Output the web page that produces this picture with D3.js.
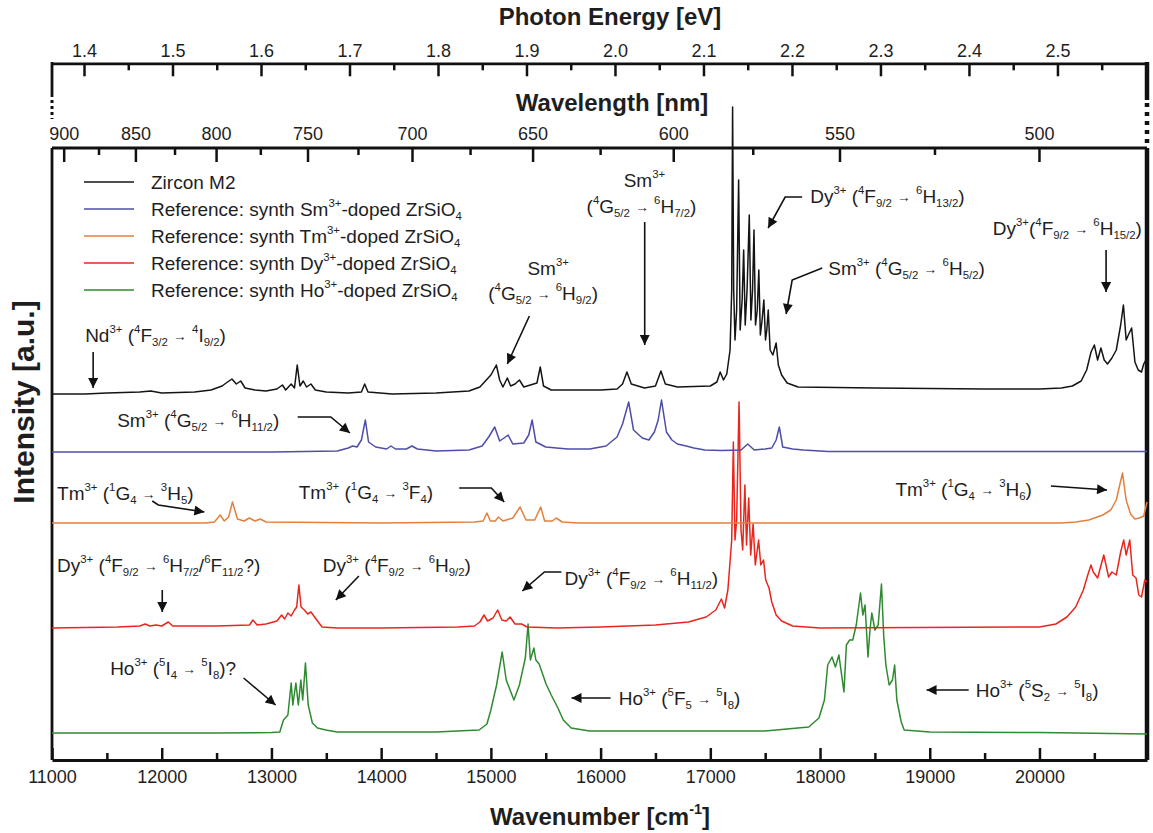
<!DOCTYPE html>
<html>
<head>
<meta charset="utf-8">
<script src="https://cdn.jsdelivr.net/npm/d3@7"></script>
<style>
  body { margin: 0; background: #fff; }
  svg { display: block; }
  text { white-space: pre; }
</style>
</head>
<body>
<div id="chart"></div>
<script>
// spectra: [wavenumber (cm-1), stacked intensity (a.u.)]
var zirconM2 = [
    [11000, 36.6], [11300, 36.6], [11500, 36.7], [11800, 36.8], [11900, 36.9], [12000, 36.7],
    [12300, 36.8], [12450, 37.0], [12550, 37.4], [12600, 37.8], [12640, 38.1], [12680, 37.6],
    [12720, 37.9], [12760, 37.2], [12850, 37.0], [12950, 36.9], [13050, 37.1], [13100, 37.5],
    [13130, 37.0], [13180, 37.6], [13210, 37.2], [13235, 39.5], [13260, 37.4], [13290, 37.9],
    [13320, 37.3], [13360, 37.6], [13400, 37.0], [13500, 36.8], [13700, 36.7], [13820, 36.8],
    [13850, 37.6], [13880, 36.8], [14100, 36.6], [14500, 36.7], [14800, 36.9], [14900, 37.3],
    [14950, 37.9], [15000, 38.5], [15050, 39.5], [15080, 38.0], [15110, 37.3], [15150, 38.2],
    [15180, 37.4], [15220, 37.6], [15260, 38.0], [15300, 37.3], [15360, 37.5], [15420, 37.7],
    [15450, 39.3], [15480, 37.4], [15550, 37.0], [15700, 37.0], [16000, 37.0], [16150, 37.1],
    [16200, 37.6], [16240, 38.8], [16280, 37.6], [16400, 37.2], [16500, 37.4], [16550, 38.9],
    [16590, 37.6], [16700, 37.3], [17000, 37.4], [17060, 37.8], [17090, 38.8], [17120, 38.0],
    [17150, 38.6], [17180, 41.0], [17195, 47.0], [17203, 65.3], [17213, 47.0], [17225, 42.0],
    [17240, 45.0], [17258, 58.0], [17272, 43.0], [17290, 46.0], [17304, 51.0], [17318, 43.5],
    [17335, 47.0], [17355, 54.5], [17370, 44.0], [17385, 47.0], [17398, 53.0], [17412, 43.5],
    [17428, 45.0], [17442, 49.0], [17456, 42.5], [17472, 44.0], [17488, 46.0], [17503, 42.0],
    [17515, 43.0], [17528, 45.0], [17545, 41.0], [17570, 40.5], [17600, 41.7], [17620, 39.5],
    [17650, 38.5], [17700, 37.7], [17800, 37.3], [18500, 37.2], [19500, 37.1], [20000, 37.1],
    [20200, 37.2], [20300, 37.4], [20380, 37.9], [20430, 39.0], [20470, 40.8], [20500, 41.5],
    [20530, 40.0], [20560, 41.2], [20590, 40.0], [20620, 39.6], [20660, 40.2], [20700, 41.0],
    [20740, 43.5], [20765, 45.5], [20790, 42.0], [20810, 42.5], [20840, 43.2], [20870, 39.8],
    [20900, 39.0], [20930, 38.8], [20950, 39.6], [20980, 40.2]
];
var smDoped = [
    [11000, 30.8], [13000, 30.8], [13600, 30.9], [13700, 31.2], [13740, 31.4], [13780, 31.3],
    [13820, 32.0], [13856, 34.0], [13885, 31.8], [13950, 31.3], [14050, 31.1], [14090, 31.4],
    [14130, 31.1], [14230, 31.1], [14280, 31.4], [14330, 31.1], [14500, 30.9], [14800, 31.0],
    [14920, 31.4], [14980, 32.3], [15035, 33.3], [15080, 31.9], [15120, 32.2], [15157, 32.5],
    [15200, 31.6], [15300, 31.7], [15345, 32.5], [15376, 34.0], [15410, 31.8], [15500, 31.3],
    [15700, 31.1], [15900, 31.1], [16050, 31.4], [16150, 32.3], [16200, 33.6], [16256, 35.8],
    [16300, 33.0], [16380, 32.2], [16440, 32.0], [16490, 32.8], [16525, 34.0], [16555, 36.0],
    [16600, 32.8], [16650, 32.0], [16700, 31.6], [16780, 31.4], [16850, 31.2], [16950, 31.0],
    [17100, 30.95], [17280, 31.0], [17341, 31.6], [17400, 31.0], [17500, 31.1], [17560, 31.2],
    [17600, 32.0], [17629, 33.3], [17660, 31.3], [17750, 31.1], [17850, 31.0], [18072, 30.85],
    [20980, 30.85]
];
var tmDoped = [
    [11000, 23.7], [12400, 23.7], [12480, 23.8], [12533, 24.5], [12570, 23.9], [12610, 24.3],
    [12645, 25.8], [12690, 24.1], [12750, 23.9], [12798, 24.2], [12850, 23.9], [12898, 24.1],
    [12950, 23.8], [14000, 23.7], [14850, 23.8], [14930, 23.9], [14964, 24.7], [14995, 23.9],
    [15040, 23.9], [15069, 24.3], [15110, 23.9], [15200, 24.2], [15266, 25.3], [15320, 24.0],
    [15400, 24.0], [15454, 25.3], [15490, 23.9], [15560, 23.9], [15595, 24.2], [15650, 23.8],
    [15800, 23.7], [20200, 23.7], [20330, 23.8], [20450, 24.0], [20577, 24.5], [20650, 25.0],
    [20700, 26.0], [20757, 28.7], [20790, 26.0], [20830, 24.6], [20869, 24.1], [20910, 24.2],
    [20950, 24.4], [20980, 25.8]
];
var dyDoped = [
    [11000, 13.2], [11600, 13.3], [11800, 13.4], [11850, 13.6], [11890, 13.4], [11950, 13.5],
    [12000, 13.4], [12060, 13.8], [12100, 13.4], [12500, 13.4], [12800, 13.5], [12831, 14.0],
    [12870, 13.5], [12950, 13.6], [13050, 13.9], [13093, 14.5], [13120, 14.1], [13150, 14.7],
    [13180, 14.4], [13210, 15.0], [13230, 15.3], [13250, 17.5], [13270, 15.3], [13300, 15.0],
    [13330, 14.6], [13360, 14.8], [13400, 14.2], [13461, 13.3], [13600, 13.2], [14000, 13.2],
    [14700, 13.3], [14850, 13.4], [14900, 13.8], [14937, 14.5], [14970, 13.9], [15020, 14.2],
    [15062, 15.0], [15100, 14.0], [15140, 13.9], [15175, 14.3], [15220, 13.6], [15280, 13.6],
    [15330, 13.3], [15600, 13.2], [16000, 13.3], [16500, 13.5], [16800, 13.8], [16962, 14.3],
    [17050, 15.0], [17101, 16.1], [17130, 15.2], [17160, 17.0], [17195, 22.0], [17210, 31.8],
    [17225, 22.0], [17240, 24.0], [17262, 35.8], [17280, 23.0], [17295, 21.0], [17315, 27.5],
    [17330, 21.5], [17350, 26.2], [17368, 20.5], [17390, 23.6], [17410, 19.5], [17440, 22.0],
    [17460, 19.5], [17485, 20.0], [17505, 18.0], [17535, 17.2], [17560, 15.8], [17600, 14.5],
    [17650, 13.9], [17750, 13.4], [18000, 13.2], [20000, 13.3], [20150, 13.6], [20250, 14.3],
    [20330, 15.3], [20400, 17.0], [20440, 18.5], [20470, 19.5], [20490, 18.8], [20530, 18.2],
    [20586, 20.5], [20630, 18.3], [20660, 18.8], [20700, 18.5], [20740, 20.8], [20768, 22.0],
    [20790, 20.5], [20823, 22.0], [20850, 18.5], [20880, 18.2], [20905, 16.5], [20930, 16.3],
    [20960, 18.0], [20980, 17.8]
];
var hoDoped = [
    [11000, 2.7], [12500, 2.7], [13000, 2.75], [13076, 2.8], [13110, 4.0], [13150, 4.5],
    [13180, 7.7], [13195, 5.5], [13223, 7.7], [13245, 5.5], [13268, 8.0], [13285, 6.0],
    [13310, 9.7], [13335, 5.5], [13373, 3.7], [13420, 3.2], [13495, 3.0], [13600, 2.8],
    [14500, 2.8], [14893, 3.0], [14964, 3.6], [15000, 5.0], [15052, 7.5], [15103, 10.8],
    [15140, 8.0], [15210, 6.0], [15260, 7.5], [15314, 10.2], [15339, 13.6], [15360, 10.0],
    [15392, 11.2], [15410, 10.0], [15440, 9.6], [15503, 7.6], [15550, 6.5], [15611, 5.2],
    [15660, 4.0], [15732, 3.2], [15900, 2.9], [17500, 2.9], [17897, 3.3], [17990, 4.2],
    [18040, 6.0], [18070, 9.5], [18109, 10.3], [18140, 9.3], [18172, 10.5], [18218, 6.8],
    [18240, 11.5], [18270, 12.0], [18298, 12.0], [18330, 13.5], [18369, 16.7], [18390, 14.5],
    [18410, 15.5], [18437, 10.3], [18455, 13.0], [18472, 14.7], [18500, 13.0], [18530, 13.5],
    [18560, 17.6], [18580, 12.5], [18600, 9.5], [18630, 7.5], [18660, 8.0], [18680, 9.5],
    [18700, 6.0], [18740, 3.8], [18767, 3.0], [19000, 2.8], [20000, 2.75], [20980, 2.6]
];

var seriesNames = [
    "Zircon M2",
    "Reference: synth Sm^{3+}-doped ZrSiO_{4}",
    "Reference: synth Tm^{3+}-doped ZrSiO_{4}",
    "Reference: synth Dy^{3+}-doped ZrSiO_{4}",
    "Reference: synth Ho^{3+}-doped ZrSiO_{4}"
];
var seriesColors = ["#141414", "#4d4daa", "#e3803e", "#e8261e", "#2f8a30"];

var wavenumberTicks = [11000, 12000, 13000, 14000, 15000, 16000, 17000, 18000, 19000, 20000];
var wavenumberMinorTicks = [11500, 12500, 13500, 14500, 15500, 16500, 17500, 18500, 19500, 20500];
var energyTicks = [1.4, 1.5, 1.6, 1.7, 1.8, 1.9, 2.0, 2.1, 2.2, 2.3, 2.4, 2.5];
var energyMinorTicks = [1.45, 1.55, 1.65, 1.75, 1.85, 1.95, 2.05, 2.15, 2.25, 2.35, 2.45, 2.55];
var wavelengthTicks = [900, 850, 800, 750, 700, 650, 600, 550, 500];
var wavelengthMinorTicks = [875, 825, 775, 725, 675, 625, 575, 525];

// transition labels: [text, wavenumber, intensity] and arrows as lists of points
var labelTexts = [
    ["Nd^{3+} (^{4}F_{3/2} → ^{4}I_{9/2})", 11302, 41.8],
    ["Sm^{3+}", 15333, 48.5],
    ["(^{4}G_{5/2} → ^{6}H_{9/2})", 14976, 46.0],
    ["Sm^{3+}", 16210, 57.3],
    ["(^{4}G_{5/2} → ^{6}H_{7/2})", 15872, 54.7],
    ["Dy^{3+} (^{4}F_{9/2} → ^{6}H_{13/2})", 17910, 55.7],
    ["Sm^{3+} (^{4}G_{5/2} → ^{6}H_{5/2})", 18075, 48.5],
    ["Dy^{3+}(^{4}F_{9/2} → ^{6}H_{15/2})", 19574, 52.5],
    ["Sm^{3+} (^{4}G_{5/2} → ^{6}H_{11/2})", 11594, 33.3],
    ["Tm^{3+} (^{1}G_{4} → ^{3}H_{5})", 11046, 26.0],
    ["Tm^{3+} (^{1}G_{4} → ^{3}F_{4})", 13249, 26.1],
    ["Tm^{3+} (^{1}G_{4} → ^{3}H_{6})", 18687, 26.4],
    ["Dy^{3+} (^{4}F_{9/2} → ^{6}H_{7/2}/^{6}F_{11/2}?)", 11046, 18.8],
    ["Dy^{3+} (^{4}F_{9/2} → ^{6}H_{9/2})", 13468, 18.8],
    ["Dy^{3+} (^{4}F_{9/2} → ^{6}H_{11/2})", 15671, 17.5],
    ["Ho^{3+} (^{5}I_{4} → ^{5}I_{8})?", 11530, 8.5],
    ["Ho^{3+} (^{5}F_{5} → ^{5}I_{8})", 16165, 5.5],
    ["Ho^{3+} (^{5}S_{2} → ^{5}I_{8})", 19419, 6.3]
];
var labelArrows = [
    [[11375, 40.8], [11375, 37.2]],
    [[15351, 44.4], [15150, 39.6]],
    [[16402, 53.8], [16402, 41.5]],
    [[17837, 56.3], [17682, 56.3], [17527, 53.2]],
    [[18020, 49.2], [17746, 48.0], [17691, 44.6]],
    [[20607, 51.0], [20607, 46.8]],
    [[13239, 34.3], [13541, 34.3], [13715, 32.7]],
    [[11914, 25.9], [11969, 25.5], [12389, 24.8]],
    [[14711, 27.2], [15004, 27.2], [15122, 25.8]],
    [[20104, 27.4], [20616, 27.0]],
    [[12005, 17.0], [12005, 14.8]],
    [[13797, 18.4], [13587, 16.0]],
    [[15643, 18.8], [15488, 18.8], [15287, 16.9]],
    [[12746, 8.2], [13038, 5.5]],
    [[16091, 6.2], [15735, 6.2]],
    [[19355, 7.0], [18971, 7.0]]
];

var EV_TO_WN = 8065.54;
var width = 1153, height = 833;
var fontFamily = "'Liberation Sans', Arial, Helvetica, sans-serif";
var textColor = "#1e1e1e";

var x = d3.scaleLinear().domain([11000, 20980]).range([52, 1147]);
var y = d3.scaleLinear().domain([0, 61.2]).range([760, 148]);
var energyScale = d3.scaleLinear()
    .domain([11000 / EV_TO_WN, 20980 / EV_TO_WN])
    .range([52, 1147]);

var svg = d3.select("#chart")
    .append("svg")
    .attr("width", width)
    .attr("height", height)
    .style("font-family", fontFamily);

svg.append("rect").attr("width", width).attr("height", height).attr("fill", "#fff");

svg.append("defs")
    .append("marker")
    .attr("id", "arrowHead")
    .attr("viewBox", "0 0 10 10")
    .attr("refX", 10)
    .attr("refY", 5)
    .attr("markerWidth", 13)
    .attr("markerHeight", 10)
    .attr("markerUnits", "userSpaceOnUse")
    .attr("orient", "auto")
    .append("path")
    .attr("d", "M0,0L10,5L0,10Z")
    .attr("fill", "#111");

// text with ^{sup} and _{sub} parts
function richText(sel, str, size) {
    var parts = str.split(/(\^\{[^}]*\}|_\{[^}]*\}|→)/).filter(function(p) { return p.length; });
    var shift = 0;
    parts.forEach(function(p) {
        var t = p, off = 0, fs = size;
        if (p.indexOf("^{") === 0) {
            t = p.slice(2, -1); off = -0.45 * size; fs = 0.6 * size;
        } else if (p.indexOf("_{") === 0) {
            t = p.slice(2, -1); off = 0.22 * size; fs = 0.6 * size;
        } else if (p === "→") {
            fs = 0.72 * size; off = -0.04 * size;
        }
        sel.append("tspan").attr("dy", off - shift).attr("font-size", fs).text(t);
        shift = off;
    });
}

// ---- bottom axis (wavenumber)
var bottomAxis = svg.append("g")
    .attr("transform", "translate(0,760)")
    .call(d3.axisBottom(x)
        .tickValues(wavenumberTicks)
        .tickSize(-12)
        .tickSizeOuter(0)
        .tickPadding(10.5)
        .tickFormat(d3.format("d")));
svg.append("g")
    .attr("transform", "translate(0,760)")
    .call(d3.axisBottom(x)
        .tickValues(wavenumberMinorTicks)
        .tickSize(-7)
        .tickSizeOuter(0)
        .tickFormat(""))
    .select(".domain").remove();

// ---- top axis (photon energy)
var energyAxis = svg.append("g")
    .attr("transform", "translate(0,63.3)")
    .call(d3.axisTop(energyScale)
        .tickValues(energyTicks)
        .tickSize(-13)
        .tickSizeOuter(0)
        .tickPadding(6.5)
        .tickFormat(d3.format(".1f")));
svg.append("g")
    .attr("transform", "translate(0,63.3)")
    .call(d3.axisTop(energyScale)
        .tickValues(energyMinorTicks)
        .tickSize(-7)
        .tickSizeOuter(0)
        .tickFormat(""))
    .select(".domain").remove();

svg.selectAll(".tick line").attr("stroke", "#111").attr("stroke-width", 2.5);
svg.selectAll(".domain").attr("stroke", "#111").attr("stroke-width", 2.8);
svg.selectAll(".tick text")
    .attr("font-size", 18)
    .attr("font-family", fontFamily)
    .attr("fill", textColor);
bottomAxis.attr("font-family", null).attr("font-size", null);
energyAxis.attr("font-family", null).attr("font-size", null);

// ---- wavelength axis (top of the plot box), ticks point inward
var wlAxis = svg.append("g");
wlAxis.append("line")
    .attr("x1", x.range()[0]).attr("x2", x.range()[1])
    .attr("y1", 148).attr("y2", 148)
    .attr("stroke", "#111").attr("stroke-width", 2.8);
wlAxis.selectAll("line.major")
    .data(wavelengthTicks)
    .join("line")
    .attr("class", "major")
    .attr("x1", function(d) { return x(1e7 / d); })
    .attr("x2", function(d) { return x(1e7 / d); })
    .attr("y1", 148).attr("y2", 162)
    .attr("stroke", "#111").attr("stroke-width", 2.5);
wlAxis.selectAll("line.minor")
    .data(wavelengthMinorTicks)
    .join("line")
    .attr("class", "minor")
    .attr("x1", function(d) { return x(1e7 / d); })
    .attr("x2", function(d) { return x(1e7 / d); })
    .attr("y1", 148).attr("y2", 155)
    .attr("stroke", "#111").attr("stroke-width", 2.5);
wlAxis.selectAll("text")
    .data(wavelengthTicks)
    .join("text")
    .attr("x", function(d) { return x(1e7 / d); })
    .attr("y", 140)
    .attr("text-anchor", "middle")
    .attr("font-size", 18)
    .attr("fill", textColor)
    .text(function(d) { return d; });

// ---- frame
var frame = svg.append("g").attr("stroke", "#111").attr("fill", "none");
frame.append("line").attr("x1", 52).attr("x2", 52).attr("y1", 148).attr("y2", 760).attr("stroke-width", 2.8);
frame.append("line").attr("x1", 1147).attr("x2", 1147).attr("y1", 148).attr("y2", 760).attr("stroke-width", 4.5);
frame.append("line").attr("x1", 52).attr("x2", 52).attr("y1", 62).attr("y2", 97).attr("stroke-width", 2.8);
frame.append("line").attr("x1", 52).attr("x2", 52).attr("y1", 100).attr("y2", 119)
    .attr("stroke-width", 3).attr("stroke-dasharray", "3,3");
frame.append("line").attr("x1", 1147).attr("x2", 1147).attr("y1", 62).attr("y2", 100).attr("stroke-width", 4.5);
frame.append("line").attr("x1", 1147).attr("x2", 1147).attr("y1", 103).attr("y2", 147)
    .attr("stroke-width", 4.5).attr("stroke-dasharray", "4,5");

// ---- spectra
var series = [
    { name: seriesNames[0], values: zirconM2, color: seriesColors[0] },
    { name: seriesNames[1], values: smDoped, color: seriesColors[1] },
    { name: seriesNames[2], values: tmDoped, color: seriesColors[2] },
    { name: seriesNames[3], values: dyDoped, color: seriesColors[3] },
    { name: seriesNames[4], values: hoDoped, color: seriesColors[4] }
];
var line = d3.line()
    .x(function(d) { return x(d[0]); })
    .y(function(d) { return y(d[1]); });

svg.append("g")
    .selectAll("path")
    .data(series.slice().reverse())
    .join("path")
    .attr("d", function(d) { return line(d.values); })
    .attr("fill", "none")
    .attr("stroke", function(d) { return d.color; })
    .attr("stroke-width", 1.5)
    .attr("stroke-linejoin", "round");

// ---- legend
var legend = svg.append("g").attr("transform", "translate(84,182)");
var legendItem = legend.selectAll("g")
    .data(series)
    .join("g")
    .attr("transform", function(d, i) { return "translate(0," + (i * 27) + ")"; });
legendItem.append("line")
    .attr("x1", 0).attr("x2", 50)
    .attr("stroke", function(d) { return d.color; })
    .attr("stroke-width", 1.5);
legendItem.append("text")
    .attr("x", 67)
    .attr("y", 7)
    .attr("fill", textColor)
    .each(function(d) { richText(d3.select(this), d.name, 19); });

// ---- transition labels
var notes = svg.append("g").attr("fill", textColor);
notes.selectAll("text")
    .data(labelTexts)
    .join("text")
    .attr("x", function(d) { return x(d[1]); })
    .attr("y", function(d) { return y(d[2]); })
    .each(function(d) { richText(d3.select(this), d[0], 19); });

var arrowLine = d3.line()
    .x(function(d) { return x(d[0]); })
    .y(function(d) { return y(d[1]); });
svg.append("g")
    .selectAll("path")
    .data(labelArrows)
    .join("path")
    .attr("d", arrowLine)
    .attr("fill", "none")
    .attr("stroke", "#111")
    .attr("stroke-width", 1.6)
    .attr("marker-end", "url(#arrowHead)");

// ---- axis titles
svg.append("text")
    .attr("x", 610).attr("y", 25)
    .attr("text-anchor", "middle")
    .attr("font-size", 24).attr("font-weight", "bold").attr("fill", textColor)
    .text("Photon Energy [eV]");
svg.append("text")
    .attr("x", 612).attr("y", 111)
    .attr("text-anchor", "middle")
    .attr("font-size", 24).attr("font-weight", "bold").attr("fill", textColor)
    .text("Wavelength [nm]");
var wnTitle = svg.append("text")
    .attr("x", 600).attr("y", 825)
    .attr("text-anchor", "middle")
    .attr("font-weight", "bold").attr("fill", textColor);
richText(wnTitle, "Wavenumber [cm^{-1}]", 24);
svg.append("text")
    .attr("transform", "translate(34,402) rotate(-90)")
    .attr("text-anchor", "middle")
    .attr("font-size", 30).attr("font-weight", "bold").attr("fill", textColor)
    .text("Intensity [a.u.]");
</script>
</body>
</html>
